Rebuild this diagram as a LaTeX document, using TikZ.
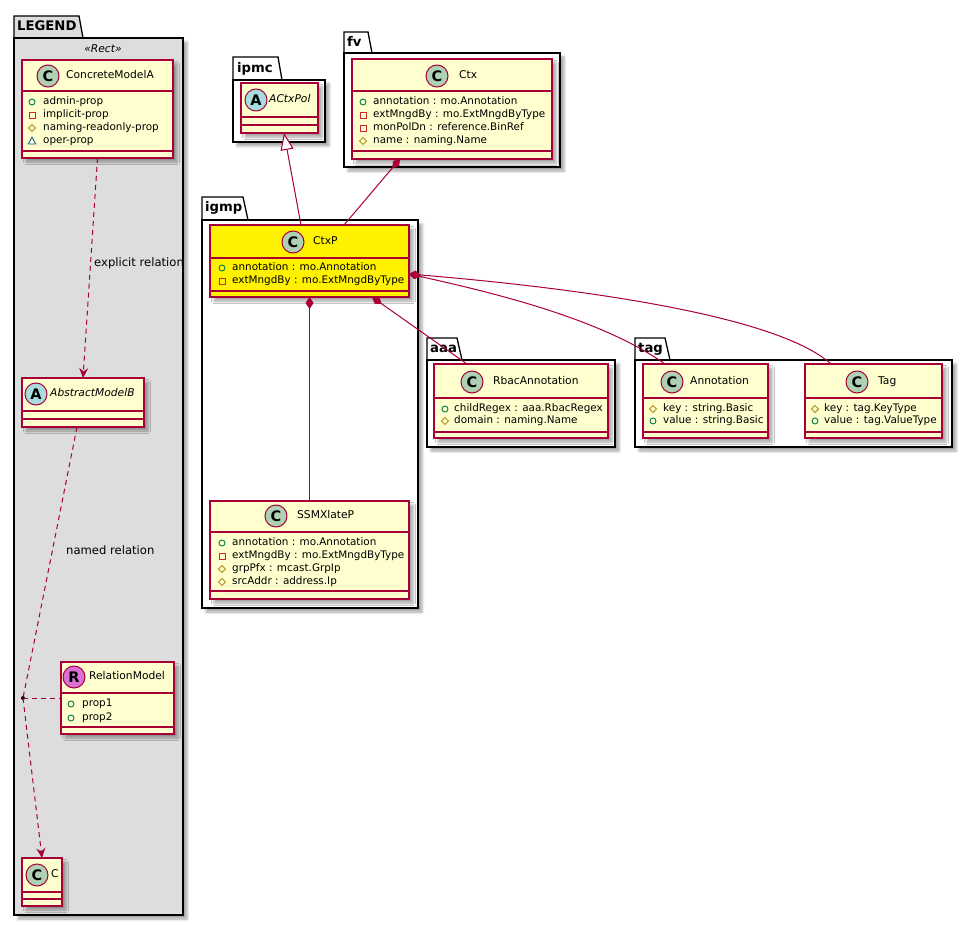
\documentclass[tikz,border=0pt]{standalone}
\usepackage{fontspec}
\setmainfont{DejaVu Sans}
\usetikzlibrary{arrows.meta,calc,shadows.blur}
\definecolor{umlborder}{HTML}{A80036}
\definecolor{umlfill}{HTML}{FEFECE}
\definecolor{legendfill}{HTML}{DDDDDD}
\definecolor{spotC}{HTML}{ADD1B2}
\definecolor{spotA}{HTML}{A9DCDF}
\definecolor{spotR}{HTML}{DA6FD6}
\definecolor{icpubc}{HTML}{038048}
\definecolor{icprivc}{HTML}{C82930}
\definecolor{icprotc}{HTML}{B38D22}
\definecolor{icpkgc}{HTML}{1963A0}
\tikzset{
  myshadow/.style={blur shadow={shadow xshift=4pt, shadow yshift=-4pt, shadow blur radius=2.5pt, shadow opacity=35}},
  classbox/.style={draw=umlborder, line width=1.2pt, inner sep=0pt, outer sep=0pt, anchor=north west, myshadow},
  classsep/.style={draw=umlborder, line width=1.2pt},
  pkgbody/.style={draw=black, line width=1.3pt, inner sep=0pt, outer sep=0pt, anchor=north west, myshadow},
  pkgtab/.style={draw=black, line width=1.3pt, line join=miter},
  pkgtitle/.style={anchor=west, inner sep=0pt, font=\bfseries\fontsize{13.2}{15}\selectfont, text height=9.5pt, text depth=2.6pt},
  cname/.style={anchor=west, inner sep=0pt, font=\fontsize{10.7}{12}\selectfont, text height=8pt, text depth=2.2pt},
  cnamei/.style={cname, font=\itshape\fontsize{10.7}{12}\selectfont},
  attr/.style={anchor=west, inner sep=0pt, font=\fontsize{10.4}{12}\selectfont, text height=7.8pt, text depth=2.2pt},
  rlabel/.style={anchor=west, inner sep=0pt, font=\fontsize{11.6}{13}\selectfont, text height=8.6pt, text depth=2.4pt},
  spotnode/.style={circle, draw=umlborder, line width=1pt, minimum size=22pt, inner sep=0pt, font=\bfseries\fontsize{14.5}{15}\selectfont},
  link/.style={draw=umlborder, line width=1pt},
  dlink/.style={link, dash pattern=on 5pt off 4pt},
  icpub/.style={draw=icpubc, line width=0.9pt},
  icpriv/.style={draw=icprivc, line width=0.9pt},
  icprot/.style={draw=icprotc, line width=0.9pt},
  icpkg/.style={draw=icpkgc, line width=0.9pt},
}
\newcommand\umlclass[8]{%
  \node[classbox, fill=#8, minimum width={#4-#2}, minimum height={#5-#3}] (#1) at (#2,#3) {};
  \draw[classsep] (#2,#6) -- (#4,#6);
  \draw[classsep] (#2,#7) -- (#4,#7);}
\newcommand\umlpkg[9]{%
  \filldraw[pkgtab, fill=#9] (#2,#6) -- (#2,#3) -- (#4,#3) -- (#5,#6);
  \node[pkgbody, fill=#9, minimum width={#7-#2}, minimum height={#8-#6}] (#1) at (#2,#6) {};}
\newcommand\ipub[2]{\draw[icpub] (#1,#2) circle[radius=3pt];}
\newcommand\ipriv[2]{\draw[icpriv] ({#1-3},{#2-3}) rectangle ({#1+3},{#2+3});}
\newcommand\iprot[2]{\draw[icprot] ({#1-3.6},#2) -- (#1,{#2-3.6}) -- ({#1+3.6},#2) -- (#1,{#2+3.6}) -- cycle;}
\newcommand\ipkg[2]{\draw[icpkg] ({#1-3.8},{#2+3}) -- ({#1+3.8},{#2+3}) -- (#1,{#2-3.8}) -- cycle;}
\newcommand\attr[6]{#2{#3}{#4}\node[attr] (#1) at (#5,#4) {#6};}
\newcommand\spot[5]{\node[spotnode, fill=#4] (#1) at (#2,#3) {#5};}
\begin{document}
\begin{tikzpicture}[x=1pt, y=-1pt]
\useasboundingbox (0,0) rectangle (971,925);
% packages
\umlpkg{legend}{14}{16}{79}{83}{38}{183}{915}{legendfill}
\umlpkg{ipmc}{233}{57}{278}{282}{80}{325}{142}{white}
\umlpkg{fv}{344}{32}{368}{372}{53}{560}{167}{white}
\umlpkg{igmp}{202}{197}{243}{248}{220}{418}{608}{white}
\umlpkg{aaa}{427}{338}{457}{462}{360}{615}{447}{white}
\umlpkg{tag}{635}{338}{665}{670}{360}{952}{447}{white}
\node[pkgtitle] (tlegend) at (17,27) {LEGEND};
\node[pkgtitle] (tipmc) at (237,69) {ipmc};
\node[pkgtitle] (tfv) at (347,43) {fv};
\node[pkgtitle] (tigmp) at (205,208) {igmp};
\node[pkgtitle] (taaa) at (430,349) {aaa};
\node[pkgtitle] (ttag) at (638,349) {tag};
\node[inner sep=0pt, font=\itshape\fontsize{10.7}{12}\selectfont] (stereo) at (103,49) {«Rect»};
% classes
\umlclass{cma}{22}{60}{173}{158}{91}{151}{umlfill}
\umlclass{amb}{22}{378}{144}{427}{411}{419}{umlfill}
\umlclass{rel}{61}{662}{174}{734}{693}{727}{umlfill}
\umlclass{cbox}{22}{858}{62}{906}{892}{899}{umlfill}
\umlclass{actx}{241}{83}{318}{133}{117}{125}{umlfill}
\umlclass{ctx}{352}{59}{552}{159}{91}{151}{umlfill}
\umlclass{ctxp}{210}{225}{409}{297}{258}{291}{yellow}
\umlclass{ssmx}{210}{501}{409}{599}{532}{591}{umlfill}
\umlclass{rbac}{434}{364}{608}{438}{398}{432}{umlfill}
\umlclass{annot}{643}{364}{768}{438}{398}{432}{umlfill}
\umlclass{tagc}{805}{364}{942}{438}{398}{432}{umlfill}
% headers
\spot{s1}{48}{76}{spotC}{C}\node[cname] (n1) at (66,76) {ConcreteModelA};
\spot{s2}{36}{394}{spotA}{A}\node[cnamei] (n2) at (50,394) {AbstractModelB};
\spot{s3}{74}{677}{spotR}{R}\node[cname] (n3) at (89,677) {RelationModel};
\spot{s4}{37}{875}{spotC}{C}\node[cname] (n4) at (51,875) {C};
\spot{s5}{256}{100}{spotA}{A}\node[cnamei] (n5) at (269,100) {ACtxPol};
\spot{s6}{437}{76}{spotC}{C}\node[cname] (n6) at (459,76) {Ctx};
\spot{s7}{293}{242}{spotC}{C}\node[cname] (n7) at (313,242) {CtxP};
\spot{s8}{276}{516}{spotC}{C}\node[cname] (n8) at (297,516) {SSMXlateP};
\spot{s9}{472}{382}{spotC}{C}\node[cname] (n9) at (493,382) {RbacAnnotation};
\spot{s10}{672}{382}{spotC}{C}\node[cname] (n10) at (690,382) {Annotation};
\spot{s11}{857}{382}{spotC}{C}\node[cname] (n11) at (878,382) {Tag};
% attributes
\attr{a1}{\ipub}{32}{102}{43}{admin-prop}
\attr{a2}{\ipriv}{32}{115}{43}{implicit-prop}
\attr{a3}{\iprot}{32}{128}{43}{naming-readonly-prop}
\attr{a4}{\ipkg}{32}{141}{43}{oper-prop}
\attr{a5}{\ipub}{71}{704}{82}{prop1}
\attr{a6}{\ipub}{71}{718}{82}{prop2}
\attr{a7}{\ipub}{363}{102}{373}{annotation : mo.Annotation}
\attr{a8}{\ipriv}{363}{115}{373}{extMngdBy : mo.ExtMngdByType}
\attr{a9}{\ipriv}{363}{128}{373}{monPolDn : reference.BinRef}
\attr{a10}{\iprot}{363}{141}{373}{name : naming.Name}
\attr{a11}{\ipub}{222}{268}{232}{annotation : mo.Annotation}
\attr{a12}{\ipriv}{222}{281}{232}{extMngdBy : mo.ExtMngdByType}
\attr{a13}{\ipub}{222}{543}{232}{annotation : mo.Annotation}
\attr{a14}{\ipriv}{222}{556}{232}{extMngdBy : mo.ExtMngdByType}
\attr{a15}{\iprot}{222}{569}{232}{grpPfx : mcast.GrpIp}
\attr{a16}{\iprot}{222}{582}{232}{srcAddr : address.Ip}
\attr{a17}{\ipub}{445}{409}{454}{childRegex : aaa.RbacRegex}
\attr{a18}{\iprot}{445}{421}{454}{domain : naming.Name}
\attr{a19}{\iprot}{653}{409}{663}{key : string.Basic}
\attr{a20}{\ipub}{653}{421}{663}{value : string.Basic}
\attr{a21}{\iprot}{815}{409}{824}{key : tag.KeyType}
\attr{a22}{\ipub}{815}{421}{824}{value : tag.ValueType}
% legend connectors
\draw[dlink, -{Stealth[length=10pt,width=9pt,inset=3.5pt]}] (cma.south) -- (amb.north);
\node[rlabel] (lbl1) at (94,263) {explicit relation};
\node[circle, fill=black, inner sep=0pt, minimum size=4pt] (rdot) at (23,698) {};
\draw[dlink] ($(amb.south)+(-6,0)$) -- (rdot.center);
\draw[dlink, -{Stealth[length=10pt,width=9pt,inset=3.5pt]}] (rdot.center) -- (cbox.north);
\draw[dlink] (rdot.center) -- (rel.west);
\node[rlabel] (lbl2) at (66,551) {named relation};
% main connectors
\draw[link, -{Triangle[length=17pt,width=13pt,fill=white]}] ($(ctxp.north west)+(91,0)$) -- ($(actx.south west)+(43,0)$);
\draw[link, {Diamond[length=12pt,width=8pt]}-] ($(ctx.south west)+(48,0)$) -- ($(ctxp.north west)+(134,0)$);
\draw[link, {Diamond[length=12pt,width=8pt]}-] (ctxp.south) -- (ssmx.north);
\draw[link, {Diamond[length=12pt,width=8pt]}-] ($(ctxp.south west)+(162,0)$) -- ($(rbac.north west)+(33,0)$);
\draw[link, {Diamond[length=12pt,width=8pt]}-] ($(ctxp.north east)+(0,49)$) .. controls (490,292) and (600,318) .. ($(annot.north west)+(22,0)$);
\draw[link, {Diamond[length=12pt,width=8pt]}-] ($(ctxp.north east)+(0,49)$) .. controls (600,290) and (780,318) .. ($(tagc.north west)+(26,0)$);
\end{tikzpicture}
\end{document}
